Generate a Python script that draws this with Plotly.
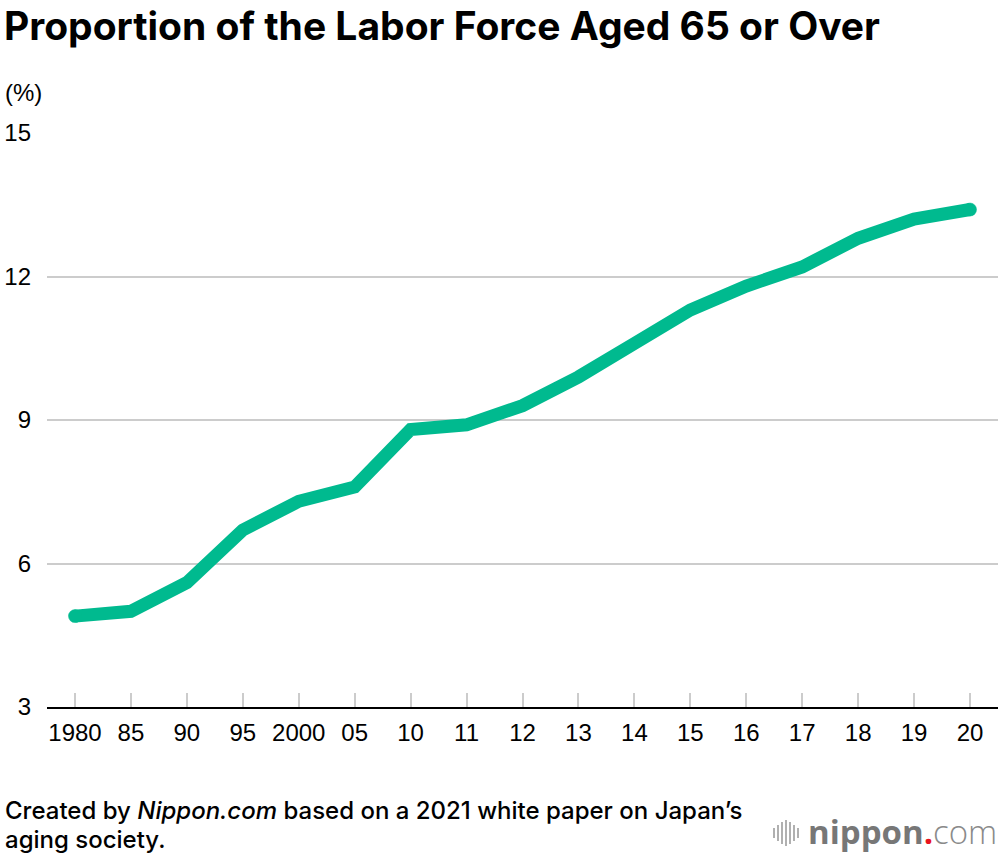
import plotly.graph_objects as go

years = ["1980", "85", "90", "95", "2000", "05", "10", "11", "12", "13",
         "14", "15", "16", "17", "18", "19", "20"]
share = [4.9, 5.0, 5.6, 6.7, 7.3, 7.6, 8.8, 8.9, 9.3, 9.9,
         10.6, 11.3, 11.8, 12.2, 12.8, 13.2, 13.4]
y_ticks = [3, 6, 9, 12, 15]

FONT = "Liberation Sans, Arial, Helvetica, sans-serif"
TFONT = "Inter, Liberation Sans, Arial, sans-serif"
W, H = 1000, 856
L, R, T, B = 47, 2, 133, 149
PW, PH = W - L - R, H - T - B
LINE_W = 13
GREEN = "#00BA8F"


def P(px, py):
    return (px - L) / PW, 1 - (py - T) / PH


n = len(years)
fig = go.Figure()
fig.add_trace(go.Scatter(
    x=list(range(n)), y=share, mode="lines+markers",
    line=dict(color=GREEN, width=LINE_W),
    # round end caps only at the first and last points
    marker=dict(color=GREEN, opacity=1,
                size=[LINE_W if i in (0, n - 1) else 0 for i in range(n)],
                line=dict(width=0.5, color=GREEN)),
    hoverinfo="skip", showlegend=False, cliponaxis=False,
))

anns = []


def text(t, px, py, size, color="#000", xanchor="left", family=FONT):
    x, y = P(px, py)
    anns.append(dict(text=t, xref="paper", yref="paper", x=x, y=y,
                     xanchor=xanchor, yanchor="middle", showarrow=False,
                     font=dict(size=size, family=family, color=color)))


text("<b>Proportion of the Labor Force Aged 65 or Over</b>", 2, 25, 39, family=TFONT)
text("(%)", 3, 93, 24)
text("<span style='font-weight:500'>Created by <i>Nippon.com</i> based on a 2021 white paper on Japan’s</span>",
     3, 810, 24, family=TFONT)
text("<span style='font-weight:500'>aging society.</span>", 3, 839, 24, family=TFONT)
text("<b>nippon</b><span style='color:#e8141e'><b>.</b></span>"
     "<span style='font-weight:300;color:#8a8a8a'>com</span>",
     999, 831, 33, color="#777777", xanchor="right",
     family="Open Sans, sans-serif")

shapes = []
bars = [(774, 10), (778, 16), (782, 22), (786, 26), (790, 22), (794, 16), (798, 10)]
for bx, bh in bars:
    x0, y0 = P(bx, 833 - bh / 2)
    x1, y1 = P(bx, 833 + bh / 2)
    shapes.append(dict(type="line", xref="paper", yref="paper",
                       x0=x0, x1=x1, y0=y0, y1=y1,
                       line=dict(color="#b0b0b0", width=2)))

fig.update_layout(
    width=W, height=H,
    margin=dict(l=L, r=R, t=T, b=B),
    paper_bgcolor="white", plot_bgcolor="white",
    font=dict(family=FONT, color="#000000"),
    xaxis=dict(
        range=[-0.5, n - 0.5],
        tickmode="array", tickvals=list(range(n)), ticktext=years,
        ticks="inside", ticklen=14, tickwidth=2, tickcolor="#cccccc",
        showline=True, linecolor="#000000", linewidth=2,
        showgrid=False, zeroline=False,
        tickfont=dict(size=24, family=FONT, color="#000"),
        ticklabelstandoff=3,
    ),
    yaxis=dict(
        range=[3, 15], tickmode="array", tickvals=y_ticks,
        showgrid=True, gridcolor="#cccccc", gridwidth=2,
        zeroline=False, showline=False, ticks="",
        tickfont=dict(size=24, family=FONT, color="#000"),
        ticklabelstandoff=15,
    ),
    annotations=anns,
    shapes=shapes,
)

fig.write_html("out.html", config={"displayModeBar": False},
               post_script="document.body.style.margin='0px';")
